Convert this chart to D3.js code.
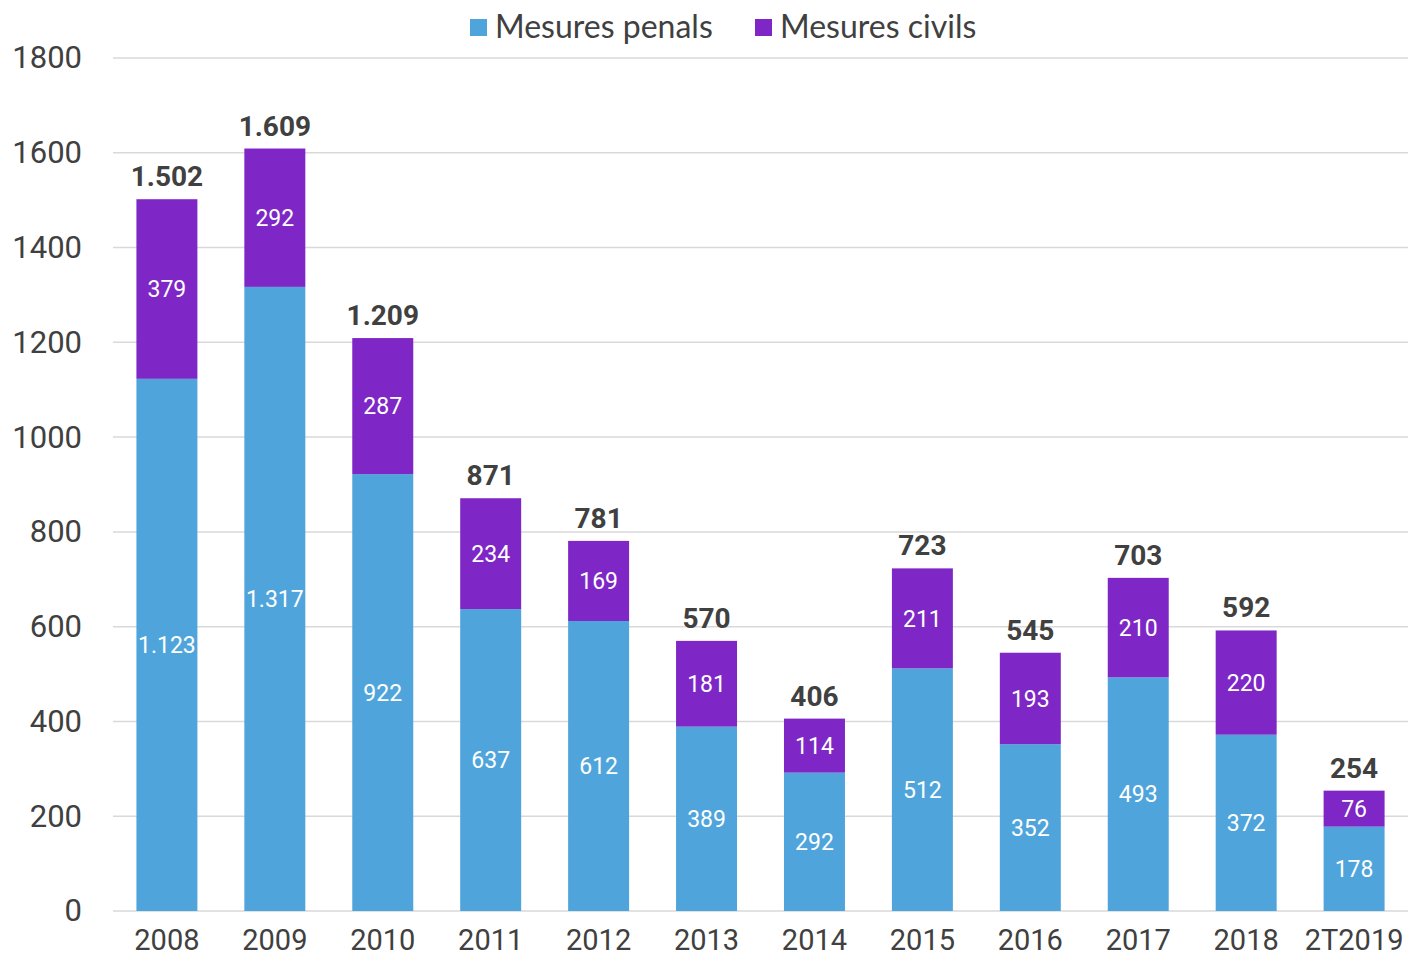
<!DOCTYPE html>
<html>
<head>
<meta charset="utf-8">
<script src="https://cdn.jsdelivr.net/npm/d3@7"></script>
<style>
  body { margin: 0; background: #fff; }
  svg { display: block; }
</style>
</head>
<body>
<div id="chart"></div>
<script>
// data
const years = ['2008', '2009', '2010', '2011', '2012', '2013', '2014', '2015', '2016', '2017', '2018', '2T2019'];
const penals = [1123, 1317, 922, 637, 612, 389, 292, 512, 352, 493, 372, 178];
const civils = [379, 292, 287, 234, 169, 181, 114, 211, 193, 210, 220, 76];
const yTicks = [0, 200, 400, 600, 800, 1000, 1200, 1400, 1600, 1800];
const seriesNames = ['Mesures penals', 'Mesures civils'];
const colors = ['#4fa5db', '#7e27c6'];

const W = 1408, H = 960;
const margin = {top: 58, right: 0, bottom: 49, left: 113};
const width = W - margin.left - margin.right;
const height = H - margin.top - margin.bottom;

const locale = d3.formatLocale({decimal: ',', thousands: '.', grouping: [3], currency: ['', '€']});
const fmt = locale.format(',d');

const rows = years.map((y, i) => ({year: y, penal: penals[i], civil: civils[i], total: penals[i] + civils[i]}));

const svg = d3.select('#chart').append('svg')
    .attr('width', W)
    .attr('height', H);

const g = svg.append('g')
    .attr('transform', `translate(${margin.left}, ${margin.top})`);

// scales
const x = d3.scaleBand()
    .domain(years)
    .range([0, width])
    .paddingInner(0.435)
    .paddingOuter(0.217);

const y = d3.scaleLinear()
    .domain([0, 1800])
    .range([height, 0]);

// gridlines
g.append('g')
    .selectAll('line')
    .data(yTicks)
    .enter().append('line')
    .attr('x1', 0)
    .attr('x2', width)
    .attr('y1', d => y(d))
    .attr('y2', d => y(d))
    .attr('stroke', '#d9d9d9')
    .attr('stroke-width', 1.5);

// y axis
const yAxis = g.append('g')
    .call(d3.axisLeft(y).tickValues(yTicks).tickFormat(d3.format('d')).tickSize(0).tickPadding(31));
yAxis.select('.domain').remove();
yAxis.selectAll('text')
    .style('font-family', 'Roboto')
    .style('font-size', '31px')
    .style('fill', '#404040');

// x axis (kept just inside the bottom edge)
const xAxis = g.append('g')
    .attr('transform', `translate(0, ${height})`)
    .call(d3.axisBottom(x).tickSize(0).tickPadding(18));
xAxis.select('.domain').remove();
xAxis.selectAll('text')
    .style('font-family', 'Roboto')
    .style('font-size', '29px')
    .style('fill', '#404040');

// stacked bars
const stack = d3.stack().keys(['penal', 'civil']);
const layers = stack(rows);

const layer = g.selectAll('.layer')
    .data(layers)
    .enter().append('g')
    .attr('class', 'layer')
    .attr('fill', (d, i) => colors[i]);

layer.selectAll('rect')
    .data(d => d)
    .enter().append('rect')
    .attr('x', d => x(d.data.year))
    .attr('y', d => y(d[1]))
    .attr('width', x.bandwidth())
    .attr('height', d => y(d[0]) - y(d[1]));

// segment labels
layer.selectAll('.seg-label')
    .data(d => d)
    .enter().append('text')
    .attr('class', 'seg-label')
    .attr('x', d => x(d.data.year) + x.bandwidth() / 2)
    .attr('y', d => (y(d[0]) + y(d[1])) / 2)
    .attr('dy', '0.36em')
    .attr('text-anchor', 'middle')
    .style('font-family', 'Roboto')
    .style('font-size', '23px')
    .style('fill', '#ffffff')
    .text(d => fmt(d[1] - d[0]));

// totals
g.selectAll('.total')
    .data(rows)
    .enter().append('text')
    .attr('class', 'total')
    .attr('x', d => x(d.year) + x.bandwidth() / 2)
    .attr('y', d => y(d.total) - 13)
    .attr('text-anchor', 'middle')
    .style('font-family', 'Roboto')
    .style('font-weight', 'bold')
    .style('font-size', '28px')
    .style('fill', '#404040')
    .text(d => fmt(d.total));

// legend
const legendX = [470, 755];
const legend = svg.selectAll('.legend')
    .data(seriesNames)
    .enter().append('g')
    .attr('class', 'legend')
    .attr('transform', (d, i) => `translate(${legendX[i]}, 19)`);

legend.append('rect')
    .attr('width', 17)
    .attr('height', 17)
    .attr('fill', (d, i) => colors[i]);

legend.append('text')
    .attr('x', 25)
    .attr('y', 19)
    .style('font-family', 'Lato')
    .style('font-size', '32px')
    .style('fill', '#404040')
    .text(d => d);
</script>
</body>
</html>
